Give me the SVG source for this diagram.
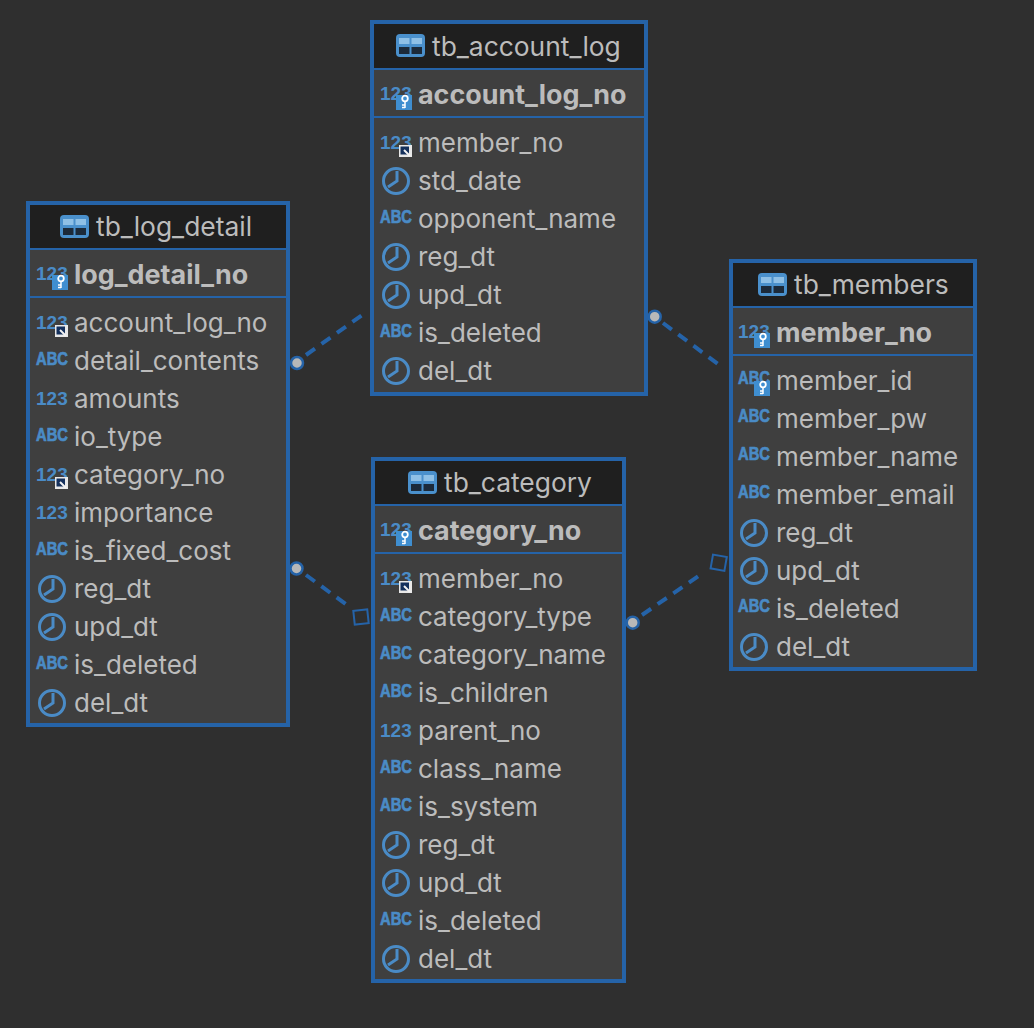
<svg xmlns="http://www.w3.org/2000/svg" xmlns:xlink="http://www.w3.org/1999/xlink" width="1034" height="1028" viewBox="0 0 1034 1028">
<style>
.box{fill:#3f3f3f;stroke:#2563a8;stroke-width:4}
.head{fill:#1f1f1f}
.sep{stroke:#2563a8;stroke-width:2;fill:none}
text{font-family:"Inter","Liberation Sans",sans-serif;fill:#bcbcbc}
.h{font-size:26.400px}
.t{font-size:26px}
.b{font-size:26.900px;font-weight:700}
.n{font-family:"Liberation Sans",sans-serif;font-size:19px;font-weight:700;fill:#4a8bc6}
.a{font-family:"Liberation Sans",sans-serif;font-size:19px;font-weight:700;fill:#4a8bc6;stroke:#4a8bc6;stroke-width:.7;transform:translateY(-2px)}
.c{fill:none;stroke:#2563a8;stroke-width:4;stroke-dasharray:11 8}
.dot{fill:#b8b8b8;stroke:#2563a8;stroke-width:2.500}
.sq{fill:none;stroke:#2563a8;stroke-width:2}
</style>
<defs>
<g id="tbl"><rect x="0" y="0" width="29" height="23" rx="4" fill="#4a90cc"/><rect x="3" y="4" width="10.500" height="6" fill="#8fc0e6"/><rect x="15.500" y="4" width="10.500" height="6" fill="#8fc0e6"/><rect x="3" y="13" width="10.500" height="7" fill="#1c2a3a"/><rect x="15.500" y="13" width="10.500" height="7" fill="#1c2a3a"/></g>
<g id="clock" fill="none" stroke="#4a8bc6" stroke-width="3"><circle cx="16" cy="0" r="12.500"/><path d="M17,-10V0L8,6"/></g>
<g id="key"><path d="M16,0H32V15H16Z" fill="#3f8ed0"/><circle cx="25" cy="3.500" r="2.800" fill="none" stroke="#fff" stroke-width="1.800"/><path d="M25,6V13M25,10H22M25,12.500H22" stroke="#fff" stroke-width="1.500" fill="none"/></g>
<g id="fk"><rect x="19" y="2" width="13" height="12" fill="#e8e8e8"/><rect x="20.500" y="3.500" width="8.500" height="8" fill="#14305c"/><path d="M24,7L30,13" stroke="#f2f2f2" stroke-width="2" fill="none"/></g>
</defs>
<rect width="1034" height="1028" fill="#2f2f2f"/>
<g id="connectors">
<path class="c" d="M306,355L365,313"/>
<path class="c" d="M306,575L351,608"/>
<path class="c" d="M642,615L703,573"/>
<path class="c" d="M663,323L722,367"/>
<circle class="dot" cx="297" cy="363" r="6"/>
<circle class="dot" cx="296.500" cy="568.500" r="6"/>
<circle class="dot" cx="632.700" cy="622.700" r="6"/>
<circle class="dot" cx="654.700" cy="316.700" r="6"/>
<rect class="sq" x="354" y="610" width="14" height="14" transform="rotate(-6 361 617)"/>
<rect class="sq" x="711.700" y="555.700" width="14" height="14" transform="rotate(10 718.700 562.700)"/>
</g>
<g id="tb_account_log">
<rect class="box" x="372" y="22" width="274" height="372"/>
<rect class="head" x="374" y="24" width="270" height="44"/>
<path class="sep" d="M374,69H644M374,117H644"/>
<use href="#tbl" x="396" y="34"/>
<text class="h" x="432" y="56">tb_account_log</text>
<g transform="translate(380,0)">
<text class="n" x="0" y="100">123</text><use href="#key" y="95"/>
<text class="n" x="0" y="149">123</text><use href="#fk" y="143"/>
<use href="#clock" y="181"/>
<text class="a" x="0" y="225" textLength="32" lengthAdjust="spacingAndGlyphs">ABC</text>
<use href="#clock" y="257"/>
<use href="#clock" y="295"/>
<text class="a" x="0" y="339" textLength="32" lengthAdjust="spacingAndGlyphs">ABC</text>
<use href="#clock" y="371"/>
</g>
<text class="b" x="418" y="104">account_log_no</text>
<text class="t" x="418" y="152">member_no</text>
<text class="t" x="418" y="190">std_date</text>
<text class="t" x="418" y="228">opponent_name</text>
<text class="t" x="418" y="266">reg_dt</text>
<text class="t" x="418" y="304">upd_dt</text>
<text class="t" x="418" y="342">is_deleted</text>
<text class="t" x="418" y="380">del_dt</text>
</g>
<g id="tb_log_detail">
<rect class="box" x="28" y="203" width="260" height="522"/>
<rect class="head" x="30" y="205" width="256" height="43"/>
<path class="sep" d="M30,249H286M30,297H286"/>
<use href="#tbl" x="60" y="215"/>
<text class="h" x="96" y="236">tb_log_detail</text>
<g transform="translate(36,0)">
<text class="n" x="0" y="280">123</text><use href="#key" y="275"/>
<text class="n" x="0" y="329">123</text><use href="#fk" y="323"/>
<text class="a" x="0" y="367" textLength="32" lengthAdjust="spacingAndGlyphs">ABC</text>
<text class="n" x="0" y="405">123</text>
<text class="a" x="0" y="443" textLength="32" lengthAdjust="spacingAndGlyphs">ABC</text>
<text class="n" x="0" y="481">123</text><use href="#fk" y="475"/>
<text class="n" x="0" y="519">123</text>
<text class="a" x="0" y="557" textLength="32" lengthAdjust="spacingAndGlyphs">ABC</text>
<use href="#clock" y="589"/>
<use href="#clock" y="627"/>
<text class="a" x="0" y="671" textLength="32" lengthAdjust="spacingAndGlyphs">ABC</text>
<use href="#clock" y="703"/>
</g>
<text class="b" x="74" y="284">log_detail_no</text>
<text class="t" x="74" y="332">account_log_no</text>
<text class="t" x="74" y="370">detail_contents</text>
<text class="t" x="74" y="408">amounts</text>
<text class="t" x="74" y="446">io_type</text>
<text class="t" x="74" y="484">category_no</text>
<text class="t" x="74" y="522">importance</text>
<text class="t" x="74" y="560">is_fixed_cost</text>
<text class="t" x="74" y="598">reg_dt</text>
<text class="t" x="74" y="636">upd_dt</text>
<text class="t" x="74" y="674">is_deleted</text>
<text class="t" x="74" y="712">del_dt</text>
</g>
<g id="tb_members">
<rect class="box" x="731" y="261" width="244" height="408"/>
<rect class="head" x="733" y="263" width="240" height="43"/>
<path class="sep" d="M733,307H973M733,355H973"/>
<use href="#tbl" x="758" y="273"/>
<text class="h" x="794" y="294">tb_members</text>
<g transform="translate(738,0)">
<text class="n" x="0" y="338">123</text><use href="#key" y="333"/>
<text class="a" x="0" y="386" textLength="32" lengthAdjust="spacingAndGlyphs">ABC</text><use href="#key" y="381"/>
<text class="a" x="0" y="424" textLength="32" lengthAdjust="spacingAndGlyphs">ABC</text>
<text class="a" x="0" y="462" textLength="32" lengthAdjust="spacingAndGlyphs">ABC</text>
<text class="a" x="0" y="500" textLength="32" lengthAdjust="spacingAndGlyphs">ABC</text>
<use href="#clock" y="533"/>
<use href="#clock" y="571"/>
<text class="a" x="0" y="614" textLength="32" lengthAdjust="spacingAndGlyphs">ABC</text>
<use href="#clock" y="647"/>
</g>
<text class="b" x="776" y="342">member_no</text>
<text class="t" x="776" y="390">member_id</text>
<text class="t" x="776" y="428">member_pw</text>
<text class="t" x="776" y="466">member_name</text>
<text class="t" x="776" y="504">member_email</text>
<text class="t" x="776" y="542">reg_dt</text>
<text class="t" x="776" y="580">upd_dt</text>
<text class="t" x="776" y="618">is_deleted</text>
<text class="t" x="776" y="656">del_dt</text>
</g>
<g id="tb_category">
<rect class="box" x="373" y="459" width="251" height="522"/>
<rect class="head" x="375" y="461" width="247" height="43"/>
<path class="sep" d="M375,505H622M375,553H622"/>
<use href="#tbl" x="408" y="471"/>
<text class="h" x="444" y="492">tb_category</text>
<g transform="translate(380,0)">
<text class="n" x="0" y="536">123</text><use href="#key" y="531"/>
<text class="n" x="0" y="585">123</text><use href="#fk" y="579"/>
<text class="a" x="0" y="623" textLength="32" lengthAdjust="spacingAndGlyphs">ABC</text>
<text class="a" x="0" y="661" textLength="32" lengthAdjust="spacingAndGlyphs">ABC</text>
<text class="a" x="0" y="699" textLength="32" lengthAdjust="spacingAndGlyphs">ABC</text>
<text class="n" x="0" y="737">123</text>
<text class="a" x="0" y="775" textLength="32" lengthAdjust="spacingAndGlyphs">ABC</text>
<text class="a" x="0" y="813" textLength="32" lengthAdjust="spacingAndGlyphs">ABC</text>
<use href="#clock" y="845"/>
<use href="#clock" y="883"/>
<text class="a" x="0" y="927" textLength="32" lengthAdjust="spacingAndGlyphs">ABC</text>
<use href="#clock" y="959"/>
</g>
<text class="b" x="418" y="540">category_no</text>
<text class="t" x="418" y="588">member_no</text>
<text class="t" x="418" y="626">category_type</text>
<text class="t" x="418" y="664">category_name</text>
<text class="t" x="418" y="702">is_children</text>
<text class="t" x="418" y="740">parent_no</text>
<text class="t" x="418" y="778">class_name</text>
<text class="t" x="418" y="816">is_system</text>
<text class="t" x="418" y="854">reg_dt</text>
<text class="t" x="418" y="892">upd_dt</text>
<text class="t" x="418" y="930">is_deleted</text>
<text class="t" x="418" y="968">del_dt</text>
</g>
</svg>
